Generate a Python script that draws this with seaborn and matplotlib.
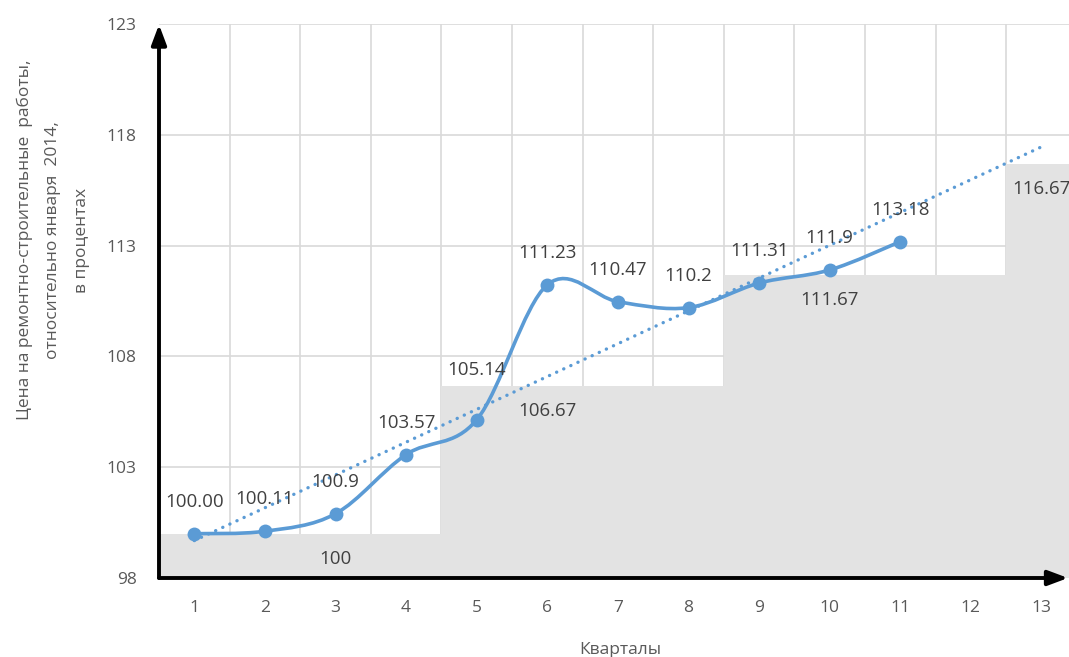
import numpy as np
import seaborn as sns
import matplotlib.pyplot as plt
from matplotlib.path import Path
from matplotlib.patches import PathPatch

# Chart data
quarters = list(range(1, 14))
price_quarters = list(range(1, 12))
price_index = [100.00, 100.11, 100.9, 103.57, 105.14, 111.23, 110.47, 110.2, 111.31, 111.9, 113.18]
price_labels = ["100.00", "100.11", "100.9", "103.57", "105.14", "111.23",
                "110.47", "110.2", "111.31", "111.9", "113.18"]
step_index = [100, 100, 100, 100, 106.67, 106.67, 106.67, 106.67,
              111.67, 111.67, 111.67, 111.67, 116.67]
step_label_quarters = [3, 6, 10, 13]
step_labels = ["100", "106.67", "111.67", "116.67"]
y_ticks = [98, 103, 108, 113, 118, 123]

blue = '#5B9BD5'
grey_fill = '#E3E3E3'
text_col = '#404040'
tick_col = '#595959'

sns.set_style('white')
plt.rcParams['font.family'] = ['Open Sans', 'DejaVu Sans']


def smooth_path(xs, ys):
    # Excel-like smoothed line: cubic Bezier segments through the points
    pts = np.column_stack([xs, ys]).astype(float)
    ext = np.vstack([pts[0], pts, pts[-1]])
    verts = [pts[0]]
    codes = [Path.MOVETO]
    for i in range(len(pts) - 1):
        p0, p1, p2, p3 = ext[i], ext[i + 1], ext[i + 2], ext[i + 3]
        verts += [p1 + (p2 - p0) / 6, p2 - (p3 - p1) / 6, p2]
        codes += [Path.CURVE4] * 3
    return Path(verts, codes)


fig = plt.figure(figsize=(10.69, 6.57), dpi=100)
ax = fig.add_axes([159 / 1069, 1 - 578 / 657, 910 / 1069, 554 / 657])

# Grey step area (bars of width 1, no gaps)
sns.barplot(x=quarters, y=step_index, native_scale=True, width=1, color=grey_fill,
            saturation=1, errorbar=None, linewidth=0, ax=ax, zorder=1)

# Linear trend, forecast to quarter 13
coef = np.polyfit(price_quarters, price_index, 1)
trend_x = [1, 13]
ax.plot(trend_x, np.polyval(coef, trend_x), color=blue, lw=2.4,
        linestyle=(0, (0.05, 2.3)), dash_capstyle='round', zorder=3)

# Smoothed price line with markers
ax.add_patch(PathPatch(smooth_path(price_quarters, price_index), facecolor='none',
                       edgecolor=blue, lw=2.6, zorder=4))
sns.scatterplot(x=price_quarters, y=price_index, color=blue, s=100, linewidth=0, ax=ax, zorder=5)

# Data labels
for q, v, lab in zip(price_quarters, price_index, price_labels):
    off = 36 if lab == "105.14" else 23
    ax.annotate(lab, (q, v), xytext=(0, off), textcoords='offset points',
                ha='center', va='center', fontsize=13.5, color=text_col, zorder=6)
for q, lab in zip(step_label_quarters, step_labels):
    ax.annotate(lab, (q, step_index[q - 1]), xytext=(0, -18), textcoords='offset points',
                ha='center', va='center', fontsize=13.5, color=text_col, zorder=6)

# Axes, grid
ax.set_xlim(0.5, 0.5 + 910 / 70.6)
ax.set_ylim(98, 123)
ax.set_xticks(quarters)
ax.set_xticklabels([str(q) for q in quarters])
ax.set_yticks(y_ticks)
ax.set_xticks([q + 0.5 for q in quarters[:-1]], minor=True)
ax.set_axisbelow(True)
ax.grid(False)
ax.yaxis.grid(True, color='#D9D9D9', lw=1.2)
ax.xaxis.grid(True, which='minor', color='#D9D9D9', lw=1.2)
ax.tick_params(axis='both', which='both', length=0, labelsize=12.5, labelcolor=tick_col)
ax.tick_params(axis='x', pad=16)
ax.tick_params(axis='y', pad=16)
ax.set_xlabel('')
ax.set_ylabel('')
for s in ax.spines.values():
    s.set_visible(False)

# Arrow axes
arrow_style = dict(arrowstyle='-|>,head_length=1.2,head_width=0.45', color='black', lw=2.8,
                   shrinkA=0, shrinkB=0)
ax.annotate('', xy=(0, 0.999), xytext=(0, 0), xycoords='axes fraction',
            arrowprops=arrow_style, annotation_clip=False, zorder=10)
ax.annotate('', xy=(909 / 910, 0), xytext=(0, 0), xycoords='axes fraction',
            arrowprops=arrow_style, annotation_clip=False, zorder=10)

# Axis titles
fig.text(53 / 1069, 1 - 240 / 657,
         'Цена на ремонтно-строительные  работы,\nотносительно января  2014,\nв процентах',
         rotation=90, ha='center', va='center', multialignment='center',
         fontsize=12.5, color=tick_col, linespacing=2.05)
fig.text(620 / 1069, 1 - 650 / 657, 'Кварталы', ha='center', va='center',
         fontsize=12.5, color=tick_col)

fig.savefig('out.png', dpi=100)
